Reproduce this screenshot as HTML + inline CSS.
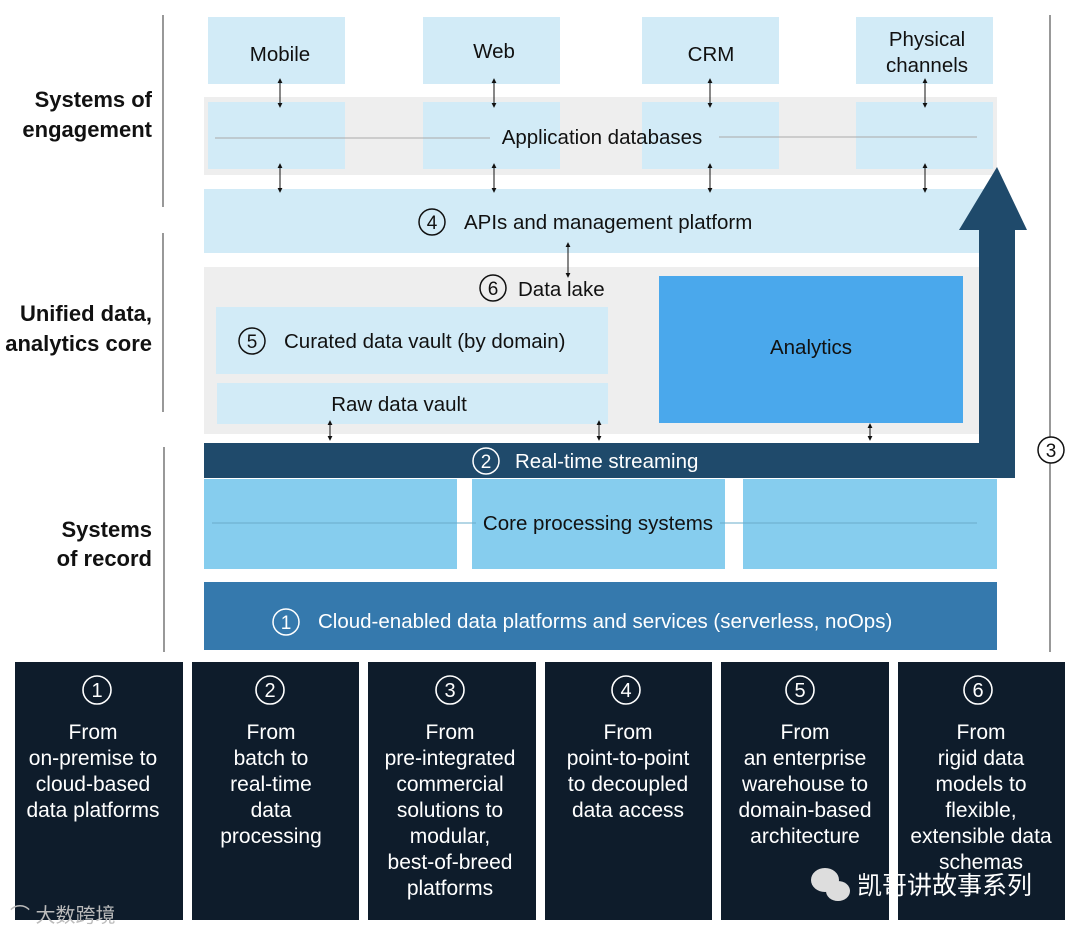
<!DOCTYPE html>
<html><head><meta charset="utf-8"><style>
html,body{margin:0;padding:0;background:#fff;}
svg{display:block;font-family:"Liberation Sans","Noto Sans CJK SC",sans-serif;}
</style></head><body>
<svg width="1080" height="934" viewBox="0 0 1080 934" xmlns="http://www.w3.org/2000/svg">
<defs>
<marker id="ah" viewBox="0 0 6 6" refX="5" refY="3" markerWidth="5" markerHeight="5" orient="auto-start-reverse"><path d="M0,0 L6,3 L0,6 z" fill="#111"/></marker>
</defs>
<g stroke="#555" stroke-width="1.2">
<line x1="163" y1="15" x2="163" y2="207"/>
<line x1="163" y1="233" x2="163" y2="412"/>
<line x1="164" y1="447" x2="164" y2="652"/>
<line x1="1050" y1="15" x2="1050" y2="437"/>
<line x1="1050" y1="463" x2="1050" y2="652"/>
</g>
<g font-size="22" font-weight="bold" fill="#111" text-anchor="end">
<text x="152" y="107">Systems of</text><text x="152" y="137">engagement</text>
<text x="152" y="321">Unified data,</text><text x="152" y="351">analytics core</text>
<text x="152" y="537">Systems</text><text x="152" y="566">of record</text>
</g>
<g fill="#d2ebf7">
<rect x="208" y="17" width="137" height="67"/><rect x="423" y="17" width="137" height="67"/>
<rect x="642" y="17" width="137" height="67"/><rect x="856" y="17" width="137" height="67"/>
</g>
<g font-size="20.5" fill="#111" text-anchor="middle">
<text x="280" y="61">Mobile</text><text x="494" y="58">Web</text><text x="711" y="61">CRM</text>
<text x="927" y="46">Physical</text><text x="927" y="72">channels</text>
</g>
<rect x="204" y="97" width="793" height="78" fill="#eeeeee"/>
<g fill="#d2ebf7">
<rect x="208" y="102" width="137" height="67"/><rect x="423" y="102" width="137" height="67"/>
<rect x="642" y="102" width="137" height="67"/><rect x="856" y="102" width="137" height="67"/>
</g>
<line x1="215" y1="138" x2="490" y2="138" stroke="#aaa" stroke-width="1"/>
<line x1="719" y1="137" x2="977" y2="137" stroke="#aaa" stroke-width="1"/>
<text x="602" y="144" font-size="20.5" fill="#111" text-anchor="middle">Application databases</text>
<rect x="204" y="189" width="793" height="64" fill="#d2ebf7"/>
<circle cx="432" cy="222" r="13" fill="none" stroke="#111" stroke-width="1.5"/>
<text x="432" y="229" font-size="19" text-anchor="middle" fill="#111">4</text>
<text x="464" y="229" font-size="20.5" fill="#111">APIs and management platform</text>
<rect x="204" y="267" width="793" height="167" fill="#eeeeee"/>
<circle cx="493" cy="288" r="13" fill="none" stroke="#111" stroke-width="1.5"/>
<text x="493" y="295" font-size="19" text-anchor="middle" fill="#111">6</text>
<text x="518" y="296" font-size="20.5" fill="#111">Data lake</text>
<rect x="216" y="307" width="392" height="67" fill="#d2ebf7"/>
<circle cx="252" cy="341" r="13" fill="none" stroke="#111" stroke-width="1.5"/>
<text x="252" y="348" font-size="19" text-anchor="middle" fill="#111">5</text>
<text x="284" y="348" font-size="20.5" fill="#111">Curated data vault (by domain)</text>
<rect x="217" y="383" width="391" height="41" fill="#d2ebf7"/>
<text x="399" y="411" font-size="20.5" fill="#111" text-anchor="middle">Raw data vault</text>
<rect x="659" y="276" width="304" height="147" fill="#4aa8ec"/>
<text x="811" y="354" font-size="20.5" fill="#111" text-anchor="middle">Analytics</text>
<g stroke="#111" stroke-width="1" marker-start="url(#ah)" marker-end="url(#ah)">
<line x1="280" y1="79" x2="280" y2="107"/><line x1="494" y1="79" x2="494" y2="107"/>
<line x1="710" y1="79" x2="710" y2="107"/><line x1="925" y1="79" x2="925" y2="107"/>
<line x1="280" y1="164" x2="280" y2="192"/><line x1="494" y1="164" x2="494" y2="192"/>
<line x1="710" y1="164" x2="710" y2="192"/><line x1="925" y1="164" x2="925" y2="192"/>
<line x1="568" y1="243" x2="568" y2="277"/>
<line x1="330" y1="421" x2="330" y2="440"/><line x1="599" y1="421" x2="599" y2="440"/>
<line x1="870" y1="424" x2="870" y2="440"/>
</g>
<g fill="#86cdee">
<rect x="204" y="479" width="253" height="90"/><rect x="472" y="479" width="253" height="90"/><rect x="743" y="479" width="254" height="90"/>
</g>
<line x1="212" y1="523" x2="977" y2="523" stroke="#6aaccb" stroke-width="1"/>
<rect x="476" y="510" width="244" height="26" fill="#86cdee"/>
<text x="598" y="530" font-size="20.5" fill="#111" text-anchor="middle">Core processing systems</text>
<path d="M204,443 H979 V230 H959 L997,167 L1027,230 H1015 V478 H204 Z" fill="#1f4a6b"/>
<circle cx="486" cy="461" r="13" fill="none" stroke="#fff" stroke-width="1.5"/>
<text x="486" y="468" font-size="19" text-anchor="middle" fill="#fff">2</text>
<text x="515" y="468" font-size="20.5" fill="#fff">Real-time streaming</text>
<circle cx="1051" cy="450" r="13" fill="#fff" stroke="#111" stroke-width="1.5"/>
<text x="1051" y="457" font-size="19" text-anchor="middle" fill="#111">3</text>
<rect x="204" y="582" width="793" height="68" fill="#3579ad"/>
<circle cx="286" cy="622" r="13" fill="none" stroke="#fff" stroke-width="1.5"/>
<text x="286" y="629" font-size="19" text-anchor="middle" fill="#fff">1</text>
<text x="318" y="628" font-size="20.5" fill="#fff">Cloud-enabled data platforms and services (serverless, noOps)</text>
<g fill="#0e1c2b">
<rect x="15" y="662" width="168" height="258"/><rect x="192" y="662" width="167" height="258"/>
<rect x="368" y="662" width="168" height="258"/><rect x="545" y="662" width="167" height="258"/>
<rect x="721" y="662" width="168" height="258"/><rect x="898" y="662" width="167" height="258"/>
</g>
<g stroke="#fff" stroke-width="1.6" fill="none">
<circle cx="97" cy="690" r="14"/><circle cx="270" cy="690" r="14"/><circle cx="450" cy="690" r="14"/>
<circle cx="626" cy="690" r="14"/><circle cx="800" cy="690" r="14"/><circle cx="978" cy="690" r="14"/>
</g>
<g font-size="20" fill="#fff" text-anchor="middle">
<text x="97" y="697">1</text><text x="270" y="697">2</text><text x="450" y="697">3</text>
<text x="626" y="697">4</text><text x="800" y="697">5</text><text x="978" y="697">6</text>
</g>
<g font-size="21" fill="#fff" text-anchor="middle">
<text x="93" y="739">From</text><text x="93" y="765">on-premise to</text><text x="93" y="791">cloud-based</text><text x="93" y="817">data platforms</text>
<text x="271" y="739">From</text><text x="271" y="765">batch to</text><text x="271" y="791">real-time</text><text x="271" y="817">data</text><text x="271" y="843">processing</text>
<text x="450" y="739">From</text><text x="450" y="765">pre-integrated</text><text x="450" y="791">commercial</text><text x="450" y="817">solutions to</text><text x="450" y="843">modular,</text><text x="450" y="869">best-of-breed</text><text x="450" y="895">platforms</text>
<text x="628" y="739">From</text><text x="628" y="765">point-to-point</text><text x="628" y="791">to decoupled</text><text x="628" y="817">data access</text>
<text x="805" y="739">From</text><text x="805" y="765">an enterprise</text><text x="805" y="791">warehouse to</text><text x="805" y="817">domain-based</text><text x="805" y="843">architecture</text>
<text x="981" y="739">From</text><text x="981" y="765">rigid data</text><text x="981" y="791">models to</text><text x="981" y="817">flexible,</text><text x="981" y="843">extensible data</text><text x="981" y="869">schemas</text>
</g>
<g fill="#ddd"><ellipse cx="825" cy="880" rx="14" ry="12"/><ellipse cx="838" cy="891" rx="12" ry="10"/></g>
<text x="857" y="894" font-size="25" fill="#fff">凯哥讲故事系列</text>
<text x="10" y="922" font-size="20" fill="#bbb">⌒ 大数跨境</text>
</svg>
</body></html>
